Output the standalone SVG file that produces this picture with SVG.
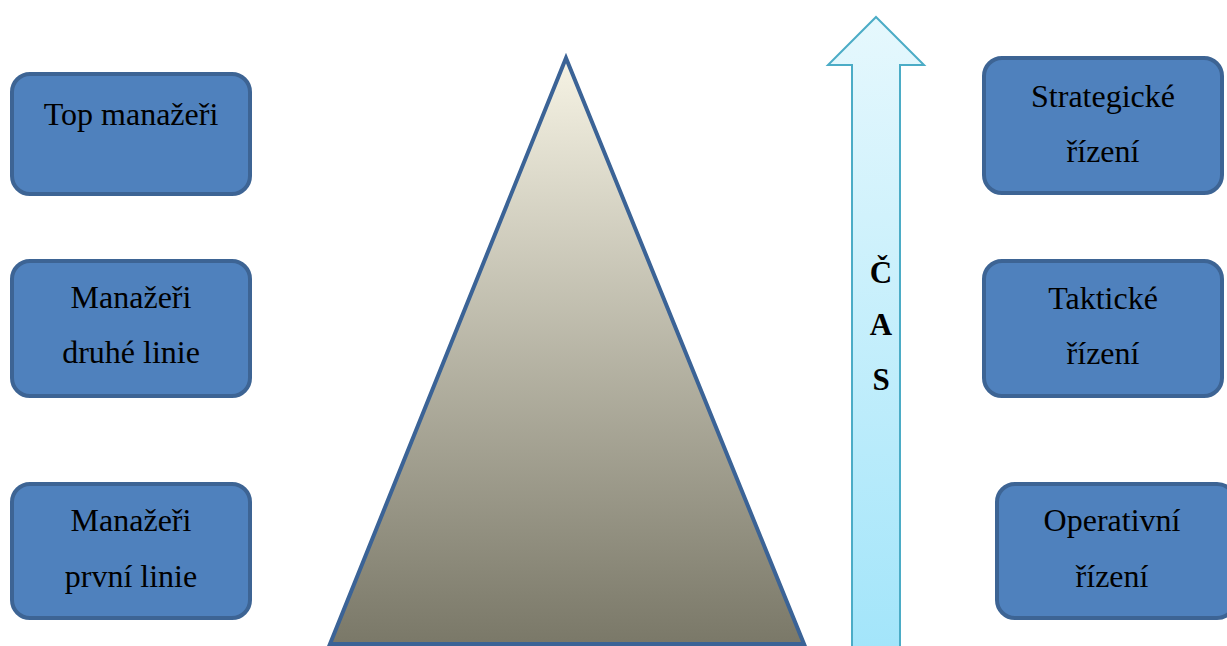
<svg xmlns="http://www.w3.org/2000/svg" width="1227" height="646" viewBox="0 0 1227 646">
<style>
.box{fill:#4f81bd;stroke:#3d6494;stroke-width:4}
.t{font-family:"Liberation Serif",serif;font-size:32px;fill:#000;text-anchor:middle}
.c{font-family:"Liberation Serif",serif;font-size:31px;font-weight:bold;fill:#000;text-anchor:middle}
</style>
<defs>
<linearGradient id="tri" x1="0" y1="0" x2="0" y2="1">
<stop offset="0" stop-color="#f6f3e4"/>
<stop offset="1" stop-color="#7a7868"/>
</linearGradient>
<linearGradient id="arr" x1="0" y1="0" x2="0" y2="1">
<stop offset="0" stop-color="#e6f8fd"/>
<stop offset="1" stop-color="#a3e5fa"/>
</linearGradient>
</defs>
<rect width="1227" height="646" fill="#fff"/>
<g id="pyramid"><polygon points="566,58 330,644 804,644" fill="url(#tri)" stroke="#3b6396" stroke-width="4" stroke-linejoin="miter"/></g>
<g id="time-arrow">
<polygon points="876,17 924,65 900,65 900,650 852,650 852,65 828,65" fill="url(#arr)" stroke="#4bacc6" stroke-width="2"/>
<text class="c" x="881" y="283">Č</text>
<text class="c" x="881" y="335">A</text>
<text class="c" x="881" y="390">S</text>
</g>
<g id="top"><rect class="box" x="12" y="74" width="238" height="120" rx="18"/><text class="t" x="131" y="125">Top manažeři</text></g>
<g id="middle"><rect class="box" x="12" y="261" width="238" height="135" rx="18"/><text class="t" x="131" y="308">Manažeři</text><text class="t" x="131" y="363">druhé linie</text></g>
<g id="first"><rect class="box" x="12" y="484" width="238" height="134" rx="18"/><text class="t" x="131" y="531">Manažeři</text><text class="t" x="131" y="587">první linie</text></g>
<g id="strategic"><rect class="box" x="984" y="58" width="238" height="135" rx="18"/><text class="t" x="1103" y="107">Strategické</text><text class="t" x="1103" y="162">řízení</text></g>
<g id="tactical"><rect class="box" x="984" y="261" width="238" height="135" rx="18"/><text class="t" x="1103" y="309">Taktické</text><text class="t" x="1103" y="364">řízení</text></g>
<g id="operative"><rect class="box" x="997" y="484" width="238" height="134" rx="18"/><text class="t" x="1112" y="531">Operativní</text><text class="t" x="1112" y="587">řízení</text></g>
<g id="connectors"/>
</svg>
